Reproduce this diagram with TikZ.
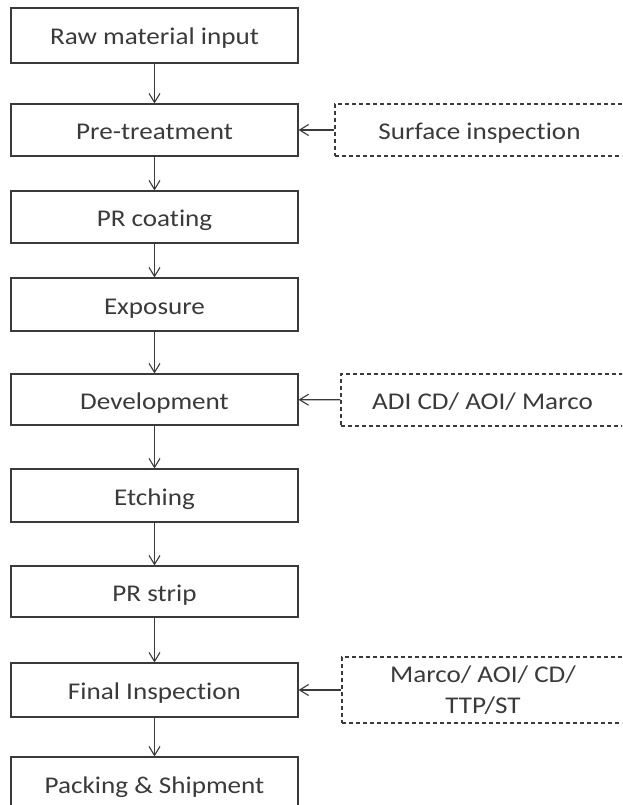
\documentclass[tikz,border=0pt]{standalone}
\usepackage{fontspec}
\setmainfont{Carlito}[FakeStretch=1.13, Ligatures=NoCommon]
\usepackage{tikz}
\usetikzlibrary{arrows.meta}
\definecolor{ink}{HTML}{3A3A3A}

\begin{document}
\begin{tikzpicture}[x=1pt, y=-1pt, ink, line width=1.1pt, ->,
    >={Straight Barb[length=9pt,width=11pt]},
    onerow/.style={text height=22pt, text depth=3pt},
    proc/.style={draw, rectangle, onerow, minimum width=287pt, minimum height=52pt, inner sep=0pt,
      font=\fontsize{24}{29}\selectfont},
    check/.style={draw, rectangle, dash pattern=on 4pt off 3pt, minimum height=52pt, inner sep=0pt,
      align=center, font=\fontsize{24}{31}\selectfont}]
  \path [use as bounding box, clip] (0,0) rectangle (622,805);
  \node [proc, minimum height=55pt] (raw) at (154.5, 35.5) {Raw material input};
  \node [proc] (pre) at (154.5, 130) {Pre-treatment};
  \path (raw) edge (pre);
  \node [check, onerow, minimum width=289pt] (surf) at (479.5, 130) {Surface inspection};
  \path (surf) edge (pre);
  \node [proc] (coat) at (154.5, 217) {PR coating};
  \path (pre) edge (coat);
  \node [proc, minimum height=53pt] (expo) at (154.5, 304.5) {Exposure};
  \path (coat) edge (expo);
  \node [proc, minimum height=51pt] (dev) at (154.5, 399.5) {Development};
  \path (expo) edge (dev);
  \node [check, onerow, minimum width=283pt] (adi) at (482.5, 400) {ADI CD/ AOI/ Marco};
  \path (adi) edge (dev);
  \node [proc, minimum height=53pt] (etch) at (154.5, 495.5) {Etching};
  \path (dev) edge (etch);
  \node [proc, minimum height=51pt] (strip) at (154.5, 591.5) {PR strip};
  \path (etch) edge (strip);
  \node [proc, minimum height=54pt] (final) at (154.5, 690) {Final Inspection};
  \path (strip) edge (final);
  \node [check, minimum width=282pt, minimum height=66pt] (macro) at (483, 690) {Marco/ AOI/ CD/\\TTP/ST};
  \path (macro) edge (final);
  \node [proc, minimum height=53pt] (pack) at (154.5, 783.5) {Packing \& Shipment};
  \path (final) edge (pack);
\end{tikzpicture}
\end{document}
